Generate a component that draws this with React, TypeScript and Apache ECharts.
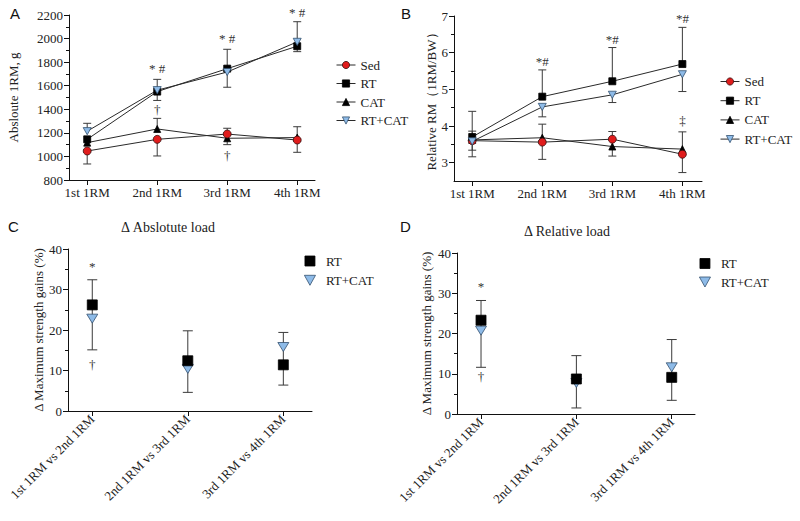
import React, { useEffect, useRef } from 'react';
import * as echarts from 'echarts';

// ---------- data ----------
const rmCategories = ['1st 1RM', '2nd 1RM', '3rd 1RM', '4th 1RM'];
const deltaCategories = ['1st 1RM vs 2nd 1RM', '2nd 1RM vs 3rd 1RM', '3rd 1RM vs 4th 1RM'];
const groups = ['Sed', 'RT', 'CAT', 'RT+CAT'];

// Panel A: absolute 1RM (g)
const absSed = [1046, 1145, 1190, 1139];
const absRT = [1145, 1550, 1745, 1935];
const absCAT = [1117, 1233, 1154, 1160];
const absRTCAT = [1214, 1562, 1716, 1972];
// error bar end values (one-sided)
const absSedErr = [936, 1004, 1239, 1035];
const absRTErr = [null, 1475, 1909, 1889];
const absCATErr = [null, 1323, 1100, 1252];
const absRTCATErr = [1281, 1654, 1587, 2143];
const absMarkX = [1, 2, 3, 1, 2];
const absMarkY = [1742, 2002, 2220, 1400, 1012];
const absMarkText = ['* #', '* #', '* #', '†', '†'];

// Panel B: relative RM (1RM/BW)
const relSed = [3.6, 3.56, 3.64, 3.23];
const relRT = [3.7, 4.8, 5.22, 5.69];
const relCAT = [3.62, 3.68, 3.44, 3.37];
const relRTCAT = [3.58, 4.52, 4.85, 5.41];
const relSedErr = [3.86, 3.09, 3.85, 2.73];
const relRTErr = [4.4, 5.53, 6.14, 6.69];
const relCATErr = [3.16, 4.05, 3.18, 3.84];
const relRTCATErr = [3.34, 4.25, 4.64, 4.94];
const relMarkX = [1, 2, 3, 3];
const relMarkY = [5.77, 6.35, 6.93, 4.14];
const relMarkText = ['*#', '*#', '*#', '‡'];
const relTicks = [3, 4, 5, 6, 7];
const relMinorTicks = [3.5, 4.5, 5.5, 6.5];

// Panel C: delta absolute load (%)
const dAbsRT = [26.2, 12.4, 11.4];
const dAbsRTCAT = [22.8, 10.4, 15.8];
const dAbsErrLow = [15.1, 4.6, 6.4];
const dAbsErrHigh = [32.4, 19.8, 19.4];
const dAbsMarkX = [0, 0];
const dAbsMarkY = [35.7, 11.4];
const dAbsMarkText = ['*', '†'];

// Panel D: delta relative load (%)
const dRelRT = [23.3, 8.7, 9.1];
const dRelRTCAT = [20.7, 7.7, 11.6];
const dRelErrLow = [11.6, 1.5, 3.4];
const dRelErrHigh = [28.2, 14.5, 18.5];
const dRelMarkX = [0, 0];
const dRelMarkY = [31.7, 9.3];
const dRelMarkText = ['*', '†'];

// ---------- styles ----------
const FONT = 'Liberation Serif';
const SANS = 'Liberation Sans';
const downTri = 'path://M0,0L10,0L5,9Z';
const square = 'path://M0,0L10,0L10,10L0,10Z';
const AXIS = '#111';
const TXT = '#222';
const MARK = '#333';
const groupStyle: Record<string, any> = {
  Sed: { symbol: 'circle', size: 8, color: '#e01c1c', border: '#3a1010' },
  RT: { symbol: 'rect', size: 7, color: '#000', border: '#000' },
  CAT: { symbol: 'triangle', size: 7, color: '#000', border: '#000' },
  'RT+CAT': { symbol: downTri, size: 8, color: '#8ebbe8', border: '#34506e' },
};
const legendText = { fontFamily: FONT, fontSize: 13, color: TXT };

function xAxisCfg(gridIndex: number, cats: string[], min: number, max: number, rotate = 0) {
  const vals = cats.map((_, i) => i);
  return {
    type: 'value', gridIndex, min, max,
    splitLine: { show: false },
    axisLine: { show: true, onZero: false, lineStyle: { color: AXIS, width: 1 } },
    axisTick: { show: true, customValues: vals, length: 5, lineStyle: { color: AXIS } },
    axisLabel: {
      customValues: vals, formatter: (v: number) => cats[Math.round(v)] ?? '',
      rotate, fontFamily: FONT, fontSize: 13, color: TXT, margin: 6,
    },
  };
}

function lineSeries(name: string, vals: number[], xi: number, yi: number) {
  const s = groupStyle[name];
  return {
    type: 'line', name, xAxisIndex: xi, yAxisIndex: yi,
    data: vals.map((v, i) => [i, v]),
    symbol: s.symbol, symbolSize: s.size, symbolKeepAspect: true,
    lineStyle: { color: '#2a2a2a', width: 1 },
    itemStyle: { color: s.color, borderColor: s.border, borderWidth: 0.8 },
    z: 3, clip: false,
  };
}

function errSeries(vals: number[], ends: (number | null)[], xi: number, yi: number, cap: number) {
  return {
    type: 'custom', xAxisIndex: xi, yAxisIndex: yi, z: 2, silent: true, clip: false,
    itemStyle: { color: '#3a3a3a' },
    data: vals.map((v, i) => (ends[i] == null ? null : [i, v, ends[i]])).filter((d) => d),
    encode: { x: 0, y: [1, 2] },
    renderItem: (params: any, api: any) => {
      const x = api.value(0);
      const p1 = api.coord([x, api.value(1)]);
      const p2 = api.coord([x, api.value(2)]);
      const style = { stroke: '#3a3a3a', lineWidth: 1 };
      return {
        type: 'group', children: [
          { type: 'line', shape: { x1: p1[0], y1: p1[1], x2: p2[0], y2: p2[1] }, style },
          { type: 'line', shape: { x1: p2[0] - cap, y1: p2[1], x2: p2[0] + cap, y2: p2[1] }, style },
        ],
      };
    },
  };
}

function rangeSeries(low: number[], high: number[], xi: number, yi: number, cap: number) {
  return {
    type: 'custom', xAxisIndex: xi, yAxisIndex: yi, z: 2, silent: true,
    itemStyle: { color: '#3a3a3a' },
    data: low.map((l, i) => [i, l, high[i]]),
    encode: { x: 0, y: [1, 2] },
    renderItem: (params: any, api: any) => {
      const x = api.value(0);
      const p1 = api.coord([x, api.value(1)]);
      const p2 = api.coord([x, api.value(2)]);
      const style = { stroke: '#3a3a3a', lineWidth: 1 };
      return {
        type: 'group', children: [
          { type: 'line', shape: { x1: p1[0], y1: p1[1], x2: p2[0], y2: p2[1] }, style },
          { type: 'line', shape: { x1: p1[0] - cap, y1: p1[1], x2: p1[0] + cap, y2: p1[1] }, style },
          { type: 'line', shape: { x1: p2[0] - cap, y1: p2[1], x2: p2[0] + cap, y2: p2[1] }, style },
        ],
      };
    },
  };
}

function scatterSeries(name: string, vals: number[], xi: number, yi: number) {
  const isTri = name === 'RT+CAT';
  return {
    type: 'scatter', name, xAxisIndex: xi, yAxisIndex: yi,
    data: vals.map((v, i) => [i, v]),
    symbol: isTri ? downTri : 'rect', symbolSize: isTri ? [11, 10] : 10, symbolKeepAspect: true,
    itemStyle: { color: isTri ? '#8ebbe8' : '#000', borderColor: isTri ? '#34506e' : '#000', borderWidth: 0.8, opacity: 1 },
    z: isTri ? 3 : 4,
  };
}

const yName = (name: string, gap: number) => ({
  name, nameLocation: 'middle', nameRotate: 90, nameGap: gap,
  nameTextStyle: { fontFamily: FONT, fontSize: 13, color: TXT },
});
const yCommon = {
  type: 'value',
  splitLine: { show: false },
  axisLine: { show: true, onZero: false, lineStyle: { color: AXIS, width: 1 } },
  axisTick: { show: true, length: 5, lineStyle: { color: AXIS } },
  axisLabel: { fontFamily: FONT, fontSize: 13, color: TXT, margin: 6, formatter: (v: number) => String(v) },
};

function legendGroup(left: number, top: number, gap: number) {
  return {
    orient: 'vertical', left, top, itemGap: gap, itemWidth: 19, itemHeight: 9, selectedMode: false,
    textStyle: legendText,
    data: groups.map((n) => ({
      name: n,
      textStyle: legendText,
      itemStyle: { color: groupStyle[n].color, borderColor: groupStyle[n].border, borderWidth: 0.8 },
      lineStyle: { color: '#2a2a2a', width: 1 },
    })),
  };
}
function legendDelta(left: number, top: number, gap: number) {
  return {
    orient: 'vertical', left, top, itemGap: gap, itemWidth: 22, itemHeight: 10, selectedMode: false,
    textStyle: legendText,
    data: [
      { name: 'RT', icon: square, textStyle: legendText, itemStyle: { color: '#000', borderColor: '#000', borderWidth: 0.8 } },
      { name: 'RT+CAT', icon: downTri, textStyle: legendText, itemStyle: { color: '#8ebbe8', borderColor: '#34506e', borderWidth: 0.8 } },
    ],
  };
}

const staticGraphics = [
  { type: 'text', x: 10, y: 13, style: { text: 'A', fontFamily: SANS, fontSize: 15, fill: '#111', verticalAlign: 'middle' } },
  { type: 'text', x: 401, y: 13, style: { text: 'B', fontFamily: SANS, fontSize: 15, fill: '#111', verticalAlign: 'middle' } },
  { type: 'text', x: 8, y: 226, style: { text: 'C', fontFamily: SANS, fontSize: 15, fill: '#111', verticalAlign: 'middle' } },
  { type: 'text', x: 400, y: 226, style: { text: 'D', fontFamily: SANS, fontSize: 15, fill: '#111', verticalAlign: 'middle' } },
  { type: 'text', x: 168, y: 227, style: { text: 'Δ Abslotute load', fontFamily: FONT, fontSize: 14, fill: TXT, align: 'center', verticalAlign: 'middle' } },
  { type: 'text', x: 567, y: 231, style: { text: 'Δ Relative load', fontFamily: FONT, fontSize: 14, fill: TXT, align: 'center', verticalAlign: 'middle' } },
];

export default function App() {
  const ref = useRef<HTMLDivElement>(null);
  useEffect(() => {
    document.body.style.margin = '0';
    if (!ref.current) return;
    const chart = echarts.init(ref.current, undefined, { renderer: 'svg' });
    const option: any = {
      animation: false,
      backgroundColor: '#fff',
      textStyle: { fontFamily: FONT },
      grid: [
        { left: 69, top: 15, width: 246, height: 165 },
        { left: 454, top: 16, width: 248, height: 165 },
        { left: 68, top: 249, width: 244, height: 162 },
        { left: 457, top: 253, width: 238, height: 161 },
      ],
      xAxis: [
        xAxisCfg(0, rmCategories, -0.26, 3.254),
        xAxisCfg(1, rmCategories, -0.26, 3.28),
        xAxisCfg(2, deltaCategories, -0.254, 2.3, 45),
        xAxisCfg(3, deltaCategories, -0.252, 2.244, 45),
      ],
      yAxis: [
        { ...yCommon, gridIndex: 0, min: 800, max: 2200, interval: 200,
          minorTick: { show: true, splitNumber: 2, length: 3, lineStyle: { color: AXIS } },
          ...yName('Absloute 1RM, g', 49) },
        { ...yCommon, gridIndex: 1, min: 2.5, max: 7,
          axisTick: { ...yCommon.axisTick, customValues: relTicks },
          axisLabel: { ...yCommon.axisLabel, customValues: relTicks },
          ...yName('Relative RM（1RM/BW）', 14) },
        { type: 'value', gridIndex: 1, min: 2.5, max: 7, position: 'left',
          splitLine: { show: false }, axisLine: { show: false, onZero: false },
          axisLabel: { show: false },
          axisTick: { show: true, length: 3, customValues: relMinorTicks, lineStyle: { color: AXIS } } },
        { ...yCommon, gridIndex: 2, min: 0, max: 40, interval: 10,
          minorTick: { show: true, splitNumber: 2, length: 3, lineStyle: { color: AXIS } },
          ...yName('Δ Maximum strength gains (%)', 23) },
        { ...yCommon, gridIndex: 3, min: 0, max: 40, interval: 10,
          minorTick: { show: true, splitNumber: 2, length: 3, lineStyle: { color: AXIS } },
          ...yName('Δ Maximum strength gains (%)', 24) },
      ],
      legend: [
        legendGroup(331, 53.5, 5.5),
        legendGroup(715, 70, 6.2),
        legendDelta(299, 249.5, 6.3),
        legendDelta(694, 252, 5.5),
      ],
      graphic: staticGraphics,
      series: [
        // Panel A
        errSeries(absSed, absSedErr, 0, 0, 4),
        errSeries(absRT, absRTErr, 0, 0, 4),
        errSeries(absCAT, absCATErr, 0, 0, 4),
        errSeries(absRTCAT, absRTCATErr, 0, 0, 4),
        lineSeries('CAT', absCAT, 0, 0),
        lineSeries('Sed', absSed, 0, 0),
        lineSeries('RT', absRT, 0, 0),
        lineSeries('RT+CAT', absRTCAT, 0, 0),
        // Panel B
        errSeries(relSed, relSedErr, 1, 1, 4),
        errSeries(relRT, relRTErr, 1, 1, 4),
        errSeries(relCAT, relCATErr, 1, 1, 4),
        errSeries(relRTCAT, relRTCATErr, 1, 1, 4),
        lineSeries('CAT', relCAT, 1, 1),
        lineSeries('Sed', relSed, 1, 1),
        lineSeries('RT', relRT, 1, 1),
        lineSeries('RT+CAT', relRTCAT, 1, 1),
        // Panel C
        rangeSeries(dAbsErrLow, dAbsErrHigh, 2, 3, 5),
        scatterSeries('RT+CAT', dAbsRTCAT, 2, 3),
        scatterSeries('RT', dAbsRT, 2, 3),
        // Panel D
        rangeSeries(dRelErrLow, dRelErrHigh, 3, 4, 5),
        scatterSeries('RT+CAT', dRelRTCAT, 3, 4),
        scatterSeries('RT', dRelRT, 3, 4),
      ],
    };
    chart.setOption(option);

    // significance marks, positioned through the chart's own axes
    const markSets = [
      { grid: 0, xs: absMarkX, ys: absMarkY, texts: absMarkText },
      { grid: 1, xs: relMarkX, ys: relMarkY, texts: relMarkText },
      { grid: 2, xs: dAbsMarkX, ys: dAbsMarkY, texts: dAbsMarkText },
      { grid: 3, xs: dRelMarkX, ys: dRelMarkY, texts: dRelMarkText },
    ];
    const markGraphics: any[] = [];
    markSets.forEach((set) => {
      set.xs.forEach((x, i) => {
        const p = chart.convertToPixel({ gridIndex: set.grid } as any, [x, set.ys[i]]) as number[];
        if (!p) return;
        markGraphics.push({
          type: 'text', x: p[0], y: p[1], z: 10, silent: true,
          style: { text: set.texts[i], fontFamily: FONT, fontSize: 13, fill: MARK, align: 'center', verticalAlign: 'middle' },
        });
      });
    });
    chart.setOption({ graphic: [...staticGraphics, ...markGraphics] });
    return () => chart.dispose();
  }, []);
  return <div ref={ref} style={{ width: 800, height: 521 }} />;
}
